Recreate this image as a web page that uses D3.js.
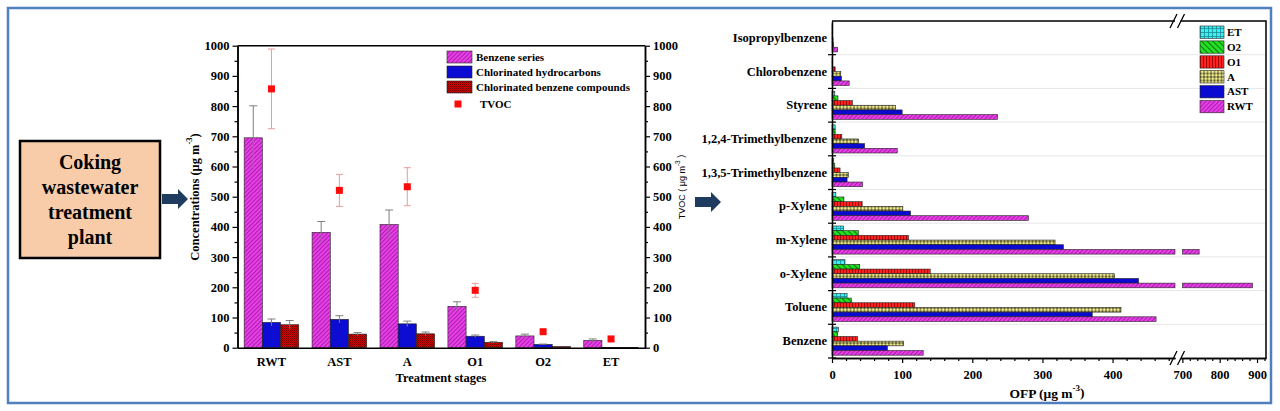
<!DOCTYPE html>
<html>
<head>
<meta charset="utf-8">
<script src="https://cdn.jsdelivr.net/npm/d3@7"></script>
<style>
  body { margin: 0; background: #fff; }
  svg { display: block; }
</style>
</head>
<body>
<div id="chart"></div>
<script>
// ---- left chart data (concentrations, ug m-3) ----
const stages = ['RWT', 'AST', 'A', 'O1', 'O2', 'ET'];
const benzeneSeries = [695, 382, 408, 137, 39, 24];
const benzeneSeriesErr = [106, 36, 48, 15, 6, 5];
const chlHydrocarbons = [84, 94, 79, 38, 11, 1];
const chlHydrocarbonsErr = [11, 12, 9, 4, 1, 0];
const chlBenzene = [76, 45, 46, 18, 4, 0.5];
const chlBenzeneErr = [14, 5, 6, 2, 0, 0];
const tvoc = [857, 521, 533, 190, 53, 29];
const tvocErr = [132, 53, 63, 23, 0, 0];
const concTicks = [0, 100, 200, 300, 400, 500, 600, 700, 800, 900, 1000];

// ---- right chart data (OFP, ug m-3) ----
const compounds = ['Benzene', 'Toluene', 'o-Xylene', 'm-Xylene', 'p-Xylene',
  '1,3,5-Trimethylbenzene', '1,2,4-Trimethylbenzene', 'Styrene', 'Chlorobenzene', 'Isopropylbenzene'];
const ofpRWT = [130, 462, 888, 745, 280, 43.5, 93, 236, 24.5, 8];
const ofpAST = [79, 371, 437, 330, 112, 21.5, 46.5, 100, 13.5, 2];
const ofpA = [102, 412, 403, 318, 101, 23.5, 38, 90.5, 12.5, 1.5];
const ofpO1 = [36.5, 118, 140, 109, 43, 11.5, 14, 29, 4.5, 1];
const ofpO2 = [8, 27.5, 39.5, 37.5, 17, 4, 4.5, 8.5, 1, 0.5];
const ofpET = [9, 21.5, 18.5, 16.5, 5.5, 2.5, 4.5, 4, 0.5, 0.3];
const ofpTicksLow = [0, 100, 200, 300, 400];
const ofpTicksHigh = [700, 800, 900];

const serif = 'Liberation Serif, Times New Roman, serif';
const intFmt = d3.format('d');

const svg = d3.select('#chart').append('svg')
    .attr('width', 1280)
    .attr('height', 411);
const defs = svg.append('defs');

// fill patterns
function linePattern(id, bg, fg, size, angle, sw) {
    const p = defs.append('pattern')
        .attr('id', id)
        .attr('patternUnits', 'userSpaceOnUse')
        .attr('width', size).attr('height', size)
        .attr('patternTransform', `rotate(${angle})`);
    p.append('rect').attr('width', size).attr('height', size).attr('fill', bg);
    p.append('line').attr('x1', 0.5).attr('y1', 0).attr('x2', 0.5).attr('y2', size)
        .attr('stroke', fg).attr('stroke-width', sw);
}
linePattern('magHatch', '#e83fe8', '#9a169a', 3, 45, 0.8);
linePattern('greenHatch', '#22e022', '#0d6a0d', 4, -45, 0.9);
linePattern('redVert', '#ff2020', '#8a0000', 3, 0, 0.8);

const grid = defs.append('pattern').attr('id', 'cyanGrid')
    .attr('patternUnits', 'userSpaceOnUse').attr('width', 4).attr('height', 4);
grid.append('rect').attr('width', 4).attr('height', 4).attr('fill', '#3cf0f0');
grid.append('path').attr('d', 'M0.5,0V4M0,0.5H4').attr('stroke', '#1a8c98').attr('stroke-width', 0.8);

const dots = defs.append('pattern').attr('id', 'yellowDots')
    .attr('patternUnits', 'userSpaceOnUse').attr('width', 3.5).attr('height', 3.5);
dots.append('rect').attr('width', 3.5).attr('height', 3.5).attr('fill', '#55552e');
dots.append('circle').attr('cx', 1.75).attr('cy', 1.75).attr('r', 1.45).attr('fill', '#f6f08c');

const check = defs.append('pattern').attr('id', 'redCheck')
    .attr('patternUnits', 'userSpaceOnUse').attr('width', 2).attr('height', 2);
check.append('rect').attr('width', 2).attr('height', 2).attr('fill', '#d40000');
check.append('rect').attr('width', 1).attr('height', 1).attr('fill', '#7a0000');
check.append('rect').attr('x', 1).attr('y', 1).attr('width', 1).attr('height', 1).attr('fill', '#7a0000');

// outer frame
svg.append('rect')
    .attr('x', 8).attr('y', 8).attr('width', 1263).attr('height', 395)
    .attr('fill', 'none').attr('stroke', '#4f7fbf').attr('stroke-width', 2.5);

// flow box + arrows
svg.append('rect')
    .attr('x', 20).attr('y', 141).attr('width', 140).attr('height', 117)
    .attr('fill', '#f8cba9').attr('stroke', '#000').attr('stroke-width', 2.5);
svg.append('g').selectAll('text')
    .data(['Coking', 'wastewater', 'treatment', 'plant'])
    .join('text')
    .attr('x', 90).attr('y', (d, i) => 162 + i * 25)
    .attr('dy', '0.35em')
    .attr('text-anchor', 'middle')
    .attr('font-family', serif).attr('font-weight', 'bold').attr('font-size', 20)
    .text(d => d);

function arrow(x, y) {
    svg.append('path')
        .attr('d', `M${x},${y - 5}H${x + 16}V${y - 10}L${x + 26},${y}L${x + 16},${y + 10}V${y + 5}H${x}Z`)
        .attr('fill', '#1f3b60');
}
arrow(162, 199);
arrow(695, 202);

// ================= left chart =================
const yL = d3.scaleLinear([0, 1000], [347.7, 45.7]);
const xL = d3.scaleBand(stages, [237.5, 645]);
const bw = 18.2;
const leftG = svg.append('g');

const seriesL = [
    { vals: benzeneSeries, err: benzeneSeriesErr, fill: 'url(#magHatch)', off: -1.5 },
    { vals: chlHydrocarbons, err: chlHydrocarbonsErr, fill: '#0c0cd2', off: -0.5 },
    { vals: chlBenzene, err: chlBenzeneErr, fill: 'url(#redCheck)', off: 0.5 }
];
seriesL.forEach(s => {
    const cx = i => xL(stages[i]) + xL.bandwidth() / 2 + s.off * bw;
    leftG.append('g').selectAll('rect')
        .data(s.vals)
        .join('rect')
        .attr('x', (d, i) => cx(i))
        .attr('y', d => yL(d))
        .attr('width', bw)
        .attr('height', d => yL(0) - yL(d))
        .attr('fill', s.fill)
        .attr('stroke', '#222').attr('stroke-width', 0.6);
    leftG.append('g').selectAll('path')
        .data(s.vals.map((d, i) => [d, s.err[i], i]).filter(d => d[1] > 0))
        .join('path')
        .attr('d', d => {
            const x = cx(d[2]) + bw / 2;
            return `M${x},${yL(d[0] - d[1])}V${yL(d[0] + d[1])}M${x - 4},${yL(d[0] + d[1])}H${x + 4}`;
        })
        .attr('stroke', '#7f7f7f').attr('stroke-width', 1).attr('fill', 'none');
});

// TVOC markers with error bars
const tx = i => xL(stages[i]) + xL.bandwidth() / 2;
leftG.append('g').selectAll('path')
    .data(tvoc.map((d, i) => [d, tvocErr[i], i]).filter(d => d[1] > 0))
    .join('path')
    .attr('d', d => {
        const x = tx(d[2]), lo = yL(d[0] - d[1]), hi = yL(d[0] + d[1]);
        return `M${x},${lo}V${hi}M${x - 3.5},${hi}H${x + 3.5}M${x - 3.5},${lo}H${x + 3.5}`;
    })
    .attr('stroke', '#e89a9a').attr('stroke-width', 1).attr('fill', 'none');
leftG.append('g').selectAll('rect')
    .data(tvoc)
    .join('rect')
    .attr('x', (d, i) => tx(i) - 3.5)
    .attr('y', d => yL(d) - 3.5)
    .attr('width', 7).attr('height', 7)
    .attr('fill', '#ff0a0a');

// axes
function styleAxis(g, size) {
    g.selectAll('.domain').attr('stroke', '#000').attr('stroke-width', 1.5);
    g.selectAll('.tick line').attr('stroke', '#000').attr('stroke-width', 1.2);
    g.selectAll('text').attr('font-family', serif).attr('font-weight', 'bold')
        .attr('font-size', size).attr('fill', '#000');
}
const minorL = d3.range(50, 1000, 100);
leftG.append('g').attr('transform', `translate(${237.5},0)`)
    .call(d3.axisLeft(yL).tickValues(concTicks).tickFormat(intFmt).tickSize(5).tickPadding(3).tickSizeOuter(0))
    .call(g => styleAxis(g, 12.5));
leftG.append('g').attr('transform', `translate(${237.5},0)`)
    .call(d3.axisLeft(yL).tickValues(minorL).tickSize(3).tickFormat('').tickSizeOuter(0))
    .call(g => styleAxis(g, 12.5));
leftG.append('g').attr('transform', `translate(${645},0)`)
    .call(d3.axisRight(yL).tickValues(concTicks).tickFormat(intFmt).tickSize(5).tickPadding(3).tickSizeOuter(0))
    .call(g => styleAxis(g, 12.5));
leftG.append('g').attr('transform', `translate(${645},0)`)
    .call(d3.axisRight(yL).tickValues(minorL).tickSize(3).tickFormat('').tickSizeOuter(0))
    .call(g => styleAxis(g, 12.5));
leftG.append('g').attr('transform', `translate(0,${yL(0)})`)
    .call(d3.axisBottom(xL).tickSize(0).tickPadding(9))
    .call(g => styleAxis(g, 12.5));
leftG.append('line')
    .attr('x1', 237.5).attr('x2', 645).attr('y1', yL(1000)).attr('y2', yL(1000))
    .attr('stroke', '#000').attr('stroke-width', 1.5);

leftG.append('text')
    .attr('x', 441).attr('y', 378).attr('dy', '0.35em')
    .attr('text-anchor', 'middle')
    .attr('font-family', serif).attr('font-weight', 'bold').attr('font-size', 12.5)
    .text('Treatment stages');

const yTitle = leftG.append('text')
    .attr('transform', 'translate(195,197) rotate(-90)')
    .attr('text-anchor', 'middle').attr('dy', '0.35em')
    .attr('font-family', serif).attr('font-weight', 'bold').attr('font-size', 12.5);
yTitle.append('tspan').text('Concentrations (μg m');
yTitle.append('tspan').attr('font-size', 8.5).attr('dy', '-0.9em').text('-3');
yTitle.append('tspan').attr('dy', '0.55em').text(')');

const tvocTitle = leftG.append('text')
    .attr('transform', 'translate(682,187) rotate(-90)')
    .attr('text-anchor', 'middle').attr('dy', '0.35em')
    .attr('font-family', 'Liberation Sans, Arial, sans-serif').attr('font-size', 9);
tvocTitle.append('tspan').text('TVOC ( μg m');
tvocTitle.append('tspan').attr('font-size', 6.5).attr('dy', '-0.8em').text('-3');
tvocTitle.append('tspan').attr('dy', '0.45em').text(' )');

// left legend
const legL = [
    { label: 'Benzene series', fill: 'url(#magHatch)' },
    { label: 'Chlorinated hydrocarbons', fill: '#0c0cd2' },
    { label: 'Chlorinated benzene compounds', fill: 'url(#redCheck)' }
];
const lgL = leftG.append('g');
legL.forEach((d, i) => {
    lgL.append('rect')
        .attr('x', 447).attr('y', 51 + i * 15).attr('width', 25).attr('height', 12)
        .attr('fill', d.fill).attr('stroke', '#222').attr('stroke-width', 0.6);
    lgL.append('text')
        .attr('x', 476).attr('y', 57 + i * 15).attr('dy', '0.35em')
        .attr('font-family', serif).attr('font-weight', 'bold').attr('font-size', 11)
        .text(d.label);
});
lgL.append('rect').attr('x', 454.5).attr('y', 100.5).attr('width', 7).attr('height', 7).attr('fill', '#ff0a0a');
lgL.append('text')
    .attr('x', 480).attr('y', 104).attr('dy', '0.35em')
    .attr('font-family', serif).attr('font-weight', 'bold').attr('font-size', 11)
    .text('TVOC');

// ================= right chart =================
const R = { left: 832, right: 1266, top: 21, bottom: 358 };
const xLow = d3.scaleLinear([0, 489], [R.left, 1175]);
const xHigh = d3.scaleLinear([695, 924], [1180.5, R.right]);
const yR = d3.scaleBand(compounds.slice().reverse(), [R.top, R.bottom]);
const stageOrder = ['ET', 'O2', 'O1', 'A', 'AST', 'RWT'];
const yInner = d3.scaleBand(stageOrder, [2.8, yR.bandwidth() - 2.8]);
const ofpSeries = {
    ET: { vals: ofpET, fill: 'url(#cyanGrid)' },
    O2: { vals: ofpO2, fill: 'url(#greenHatch)' },
    O1: { vals: ofpO1, fill: 'url(#redVert)' },
    A: { vals: ofpA, fill: 'url(#yellowDots)' },
    AST: { vals: ofpAST, fill: '#0a0ad0' },
    RWT: { vals: ofpRWT, fill: 'url(#magHatch)' }
};
const rightG = svg.append('g');

// light grid lines at band boundaries
rightG.append('g').selectAll('line')
    .data(compounds.slice(0, 9))
    .join('line')
    .attr('x1', R.left).attr('x2', R.right)
    .attr('y1', d => yR(d)).attr('y2', d => yR(d))
    .attr('stroke', '#e6e6e6').attr('stroke-width', 1);

stageOrder.forEach(k => {
    const s = ofpSeries[k];
    const rows = s.vals.map((v, i) => ({ v, c: compounds[i] }));
    const g = rightG.append('g');
    g.selectAll('rect.low')
        .data(rows)
        .join('rect')
        .attr('class', 'low')
        .attr('x', R.left)
        .attr('y', d => yR(d.c) + yInner(k))
        .attr('width', d => xLow(Math.min(d.v, 489)) - R.left)
        .attr('height', yInner.bandwidth())
        .attr('fill', s.fill).attr('stroke', '#222').attr('stroke-width', 0.6);
    g.selectAll('rect.high')
        .data(rows.filter(d => d.v > 695))
        .join('rect')
        .attr('class', 'high')
        .attr('x', xHigh(695) + 2)
        .attr('y', d => yR(d.c) + yInner(k))
        .attr('width', d => xHigh(d.v) - xHigh(695) - 2)
        .attr('height', yInner.bandwidth())
        .attr('fill', s.fill).attr('stroke', '#222').attr('stroke-width', 0.6);
});

// x axes (broken)
rightG.append('g').attr('transform', `translate(0,${R.bottom})`)
    .call(d3.axisBottom(xLow).tickValues(ofpTicksLow).tickFormat(intFmt).tickSize(5).tickPadding(7).tickSizeOuter(0))
    .call(g => styleAxis(g, 12.5));
rightG.append('g').attr('transform', `translate(0,${R.bottom})`)
    .call(d3.axisBottom(xLow).tickValues(d3.range(20, 489, 20).filter(v => v % 100)).tickSize(3).tickFormat('').tickSizeOuter(0))
    .call(g => styleAxis(g, 12.5));
rightG.append('g').attr('transform', `translate(0,${R.bottom})`)
    .call(d3.axisBottom(xHigh).tickValues(ofpTicksHigh).tickFormat(intFmt).tickSize(5).tickPadding(7).tickSizeOuter(0))
    .call(g => styleAxis(g, 12.5));
rightG.append('g').attr('transform', `translate(0,${R.bottom})`)
    .call(d3.axisBottom(xHigh).tickValues(d3.range(720, 924, 20).filter(v => v % 100)).tickSize(3).tickFormat('').tickSizeOuter(0))
    .call(g => styleAxis(g, 12.5));

// top frame + right frame
rightG.append('path')
    .attr('d', `M${R.left},${R.top}H1175M1180.5,${R.top}H${R.right}V${R.bottom}`)
    .attr('fill', 'none').attr('stroke', '#000').attr('stroke-width', 1.5);

// break marks
[R.top, R.bottom].forEach(y => {
    rightG.append('path')
        .attr('d', `M1170,${y + 7}L1177,${y - 7}M1177.5,${y + 7}L1184.5,${y - 7}`)
        .attr('stroke', '#000').attr('stroke-width', 1.3).attr('fill', 'none');
});

// y axis: labels at band centres, ticks at band boundaries
rightG.append('g').attr('transform', `translate(${R.left},0)`)
    .call(d3.axisLeft(yR).tickSize(0).tickPadding(5))
    .call(g => styleAxis(g, 12.5));
rightG.append('g').selectAll('line')
    .data(compounds)
    .join('line')
    .attr('x1', R.left - 4).attr('x2', R.left + 4)
    .attr('y1', d => yR(d) + yR.bandwidth()).attr('y2', d => yR(d) + yR.bandwidth())
    .attr('stroke', '#000').attr('stroke-width', 1.2);

const xTitle = rightG.append('text')
    .attr('x', 1047).attr('y', 393).attr('dy', '0.35em')
    .attr('text-anchor', 'middle')
    .attr('font-family', serif).attr('font-weight', 'bold').attr('font-size', 13.5);
xTitle.append('tspan').text('OFP (μg m');
xTitle.append('tspan').attr('font-size', 9).attr('dy', '-0.8em').text('-3');
xTitle.append('tspan').attr('dy', '0.5em').text(')');

// right legend
const lgR = rightG.append('g');
stageOrder.forEach((k, i) => {
    lgR.append('rect')
        .attr('x', 1200).attr('y', 26 + i * 14.9).attr('width', 24).attr('height', 12.3)
        .attr('fill', ofpSeries[k].fill).attr('stroke', '#222').attr('stroke-width', 0.6);
    lgR.append('text')
        .attr('x', 1227).attr('y', 32 + i * 14.9).attr('dy', '0.35em')
        .attr('font-family', serif).attr('font-weight', 'bold').attr('font-size', 11)
        .text(k);
});
</script>
</body>
</html>
